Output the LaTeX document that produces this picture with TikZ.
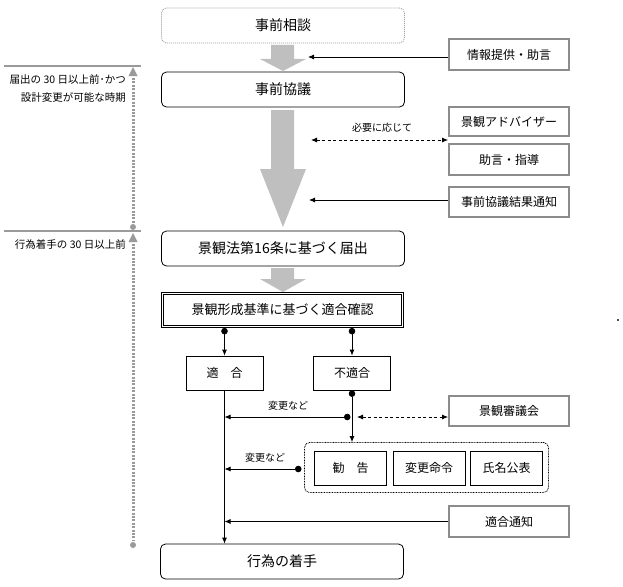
\documentclass[tikz,border=0pt]{standalone}
\usepackage{fontspec}
\setmainfont{Noto Sans CJK JP}
\usetikzlibrary{arrows.meta,calc}
\definecolor{arrowgray}{HTML}{BFBFBF}
\definecolor{boxgray}{HTML}{8C8C8C}
\definecolor{linegray}{HTML}{9A9A9A}
\begin{document}
\begin{tikzpicture}[x=1pt,y=-1pt,
  mainbox/.style={draw, line width=0.8pt, rounded corners=5pt, minimum width=243pt, minimum height=35pt, inner sep=0pt, font=\fontsize{14}{16}\selectfont},
  sidebox/.style={draw=boxgray, line width=1.9pt, minimum width=120pt, inner sep=0pt, font=\fontsize{12}{14}\selectfont},
  plainbox/.style={draw, line width=0.8pt, minimum width=77pt, minimum height=34pt, inner sep=0pt, font=\fontsize{12}{14}\selectfont},
  innerbox/.style={draw, line width=0.8pt, minimum width=72pt, minimum height=34pt, inner sep=0pt, font=\fontsize{12}{14}\selectfont},
  smalllabel/.style={inner sep=1pt, font=\fontsize{10}{12}\selectfont},
  lefttext/.style={inner sep=0pt, anchor=east, font=\fontsize{10.5}{12}\selectfont},
  conn/.style={line width=0.8pt, -{Latex[length=6pt,width=5pt]}},
  dotconn/.style={line width=0.8pt, {Circle[length=6.5pt]}-{Latex[length=6pt,width=5pt]}},
  dashconn/.style={line width=0.8pt, dash pattern=on 3pt off 2.5pt, {Latex[length=6pt,width=5pt]}-{Latex[length=6pt,width=5pt]}},
  grayarrow/.style={fill=arrowgray},
  leftline/.style={linegray, line width=1.5pt},
  leftdots/.style={linegray, line width=3pt, dash pattern=on 2pt off 1.4pt}
]
\useasboundingbox (0,0) rectangle (623,586);

% main flow boxes
\node[mainbox, draw=linegray, dash pattern=on 1pt off 1pt] (pre) at (283,25.5) {事前相談};
\node[mainbox] (kyogi) at (283,89.5) {事前協議};
\node[mainbox] (todoke) at (283,248.5) {景観法第16条に基づく届出};
\node[draw, line width=0.8pt, minimum width=242pt, minimum height=35pt, inner sep=0pt, font=\fontsize{13}{15}\selectfont] (confirm) at (282.5,310) {景観形成基準に基づく適合確認};
\draw[line width=0.8pt] ($(confirm.north west)+(2.4,2.4)$) rectangle ($(confirm.south east)+(-2.4,-2.4)$);
\node[plainbox] (tekigo) at (224.5,373) {適　合};
\node[plainbox] (futekigo) at (352,373) {不適合};
\node[draw, line width=0.8pt, dash pattern=on 0.8pt off 0.8pt, rounded corners=5pt, minimum width=244pt, minimum height=50pt] (group) at (426.5,467.5) {};
\node[innerbox] (kankoku) at (350.5,468) {勧　告};
\node[innerbox] (meirei) at (429,468) {変更命令};
\node[innerbox] (kohyo) at (506.5,468) {氏名公表};
\node[mainbox] (start) at (282,561.5) {行為の着手};

% side boxes
\node[sidebox, minimum height=31pt] (info) at (509,54.5) {情報提供・助言};
\node[sidebox, minimum height=29pt] (adv) at (509,121.5) {景観アドバイザー};
\node[sidebox, minimum height=31pt] (guide) at (509,159.5) {助言・指導};
\node[sidebox, minimum height=30pt] (result) at (509,202) {事前協議結果通知};
\node[sidebox, minimum height=30pt] (council) at (509,411) {景観審議会};
\node[sidebox, minimum height=31pt] (notice) at (509,521.5) {適合通知};

% gray flow arrows
\fill[grayarrow] (271,45) -- (294,45) -- (294,59) -- (306,59) -- (283,71) -- (260,59) -- (271,59) -- cycle;
\fill[grayarrow] (271,110) -- (294,110) -- (294,169) -- (306,169) -- (283,227) -- (260,169) -- (271,169) -- cycle;
\fill[grayarrow] (271,268) -- (294,268) -- (294,279) -- (306,279) -- (283,292) -- (260,279) -- (271,279) -- cycle;

% upper connectors
\coordinate (e1) at (308,57);
\coordinate (e2) at (311,140);
\coordinate (e3) at (309,200);
\draw[conn] (info.west |- e1) -- (e1);
\draw[dashconn] (e2) -- (adv.west |- e2);
\draw[conn] (result.west |- e3) -- (e3);
\node[smalllabel] (l3) at (382,128) {必要に応じて};

% lower connectors
\draw[dotconn] (confirm.south -| tekigo.north) -- (tekigo.north);
\draw[dotconn] (confirm.south -| futekigo.north) -- (futekigo.north);
\draw[dotconn] (futekigo.south) -- (group.north -| futekigo.south);
\coordinate (d1) at (350.5,417);
\coordinate (d2) at (357,417);
\coordinate (d3) at (301.5,469);
\draw[dotconn] (d1) -- (tekigo.south |- d1);
\draw[dashconn] (d2) -- (council.west |- d2);
\draw[dotconn] (d3) -- (tekigo.south |- d3);
\draw[conn] (notice.west) -- (tekigo.south |- notice.west);
\draw[conn] (tekigo.south) -- (tekigo.south |- start.north);
\node[smalllabel] (l1) at (288,406) {変更など};
\node[smalllabel] (l2) at (265,458) {変更など};

% left timeline
\draw[leftline] (4,66) -- (141,66);
\draw[leftline] (4,231) -- (141,231);
\node[lefttext] (t1) at (126,79) {届出の 30 日以上前･かつ};
\node[lefttext] (t2) at (126,97) {設計変更が可能な時期};
\node[lefttext] (t3) at (126,244) {行為着手の 30 日以上前};
\fill[linegray] (133,67) -- (137.5,76) -- (128.5,76) -- cycle;
\draw[leftdots] (133,78) -- (133,223);
\fill[linegray] (133,227) circle (3);
\fill[linegray] (133,233) -- (137.5,242) -- (128.5,242) -- cycle;
\draw[leftdots] (133,244) -- (133,541);
\fill[linegray] (133,545) circle (3);

% stray mark at right edge
\fill[black!70] (617,319) rectangle (619,321);
\end{tikzpicture}
\end{document}
